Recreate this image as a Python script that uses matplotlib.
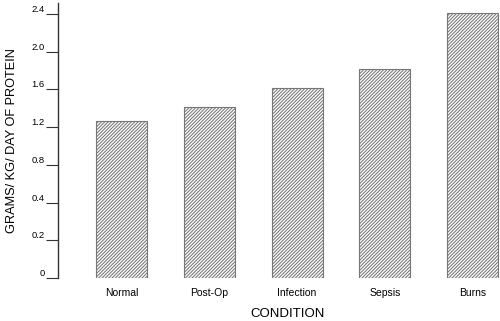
import numpy as np
import matplotlib
matplotlib.use("Agg")
import matplotlib.pyplot as plt

categories = ["Normal", "Post-Op", "Infection", "Sepsis", "Burns"]
values = [1.27, 1.41, 1.61, 1.82, 2.41]
tick_values = [0, 0.2, 0.4, 0.8, 1.2, 1.6, 2.0, 2.4]
tick_labels = ["0", "0.2", "0.4", "0.8", "1.2", "1.6", "2.0", "2.4"]

plt.rcParams["font.family"] = ["Liberation Sans", "DejaVu Sans"]
plt.rcParams["hatch.linewidth"] = 0.75
plt.rcParams["hatch.color"] = "#3a3a3a"

# piecewise axis: the printed ticks are equally spaced
knots_v = np.array(tick_values + [2.8])
knots_i = np.arange(len(knots_v), dtype=float)

def fwd(y):
    return np.interp(y, knots_v, knots_i)

def inv(i):
    return np.interp(i, knots_i, knots_v)

fig = plt.figure(figsize=(5.0, 3.21), dpi=100)
ax = fig.add_axes([58/500, 43/321, 441/500, 275/321])
ax.set_yscale("function", functions=(fwd, inv))

x = np.arange(len(categories))
ax.bar(x, values, width=0.58, color="white", edgecolor="#777777",
       linewidth=0.8, hatch="//////////", zorder=2)

ax.set_xlim(-0.724, 4.3)
ax.set_ylim(0, inv(7.29))
ax.set_yticks(tick_values)
ax.set_yticklabels(tick_labels)
ax.set_xticks(x)
ax.set_xticklabels(categories, fontsize=7.5)

for s in ["top", "right", "bottom"]:
    ax.spines[s].set_visible(False)
ax.spines["left"].set_linewidth(1.0)
ax.spines["left"].set_color("#333333")
ax.tick_params(axis="y", length=8.6, width=0.8, pad=1, labelsize=6.8, color="#333333")
ax.tick_params(axis="x", length=0, pad=7)
for lbl in ax.get_yticklabels():
    lbl.set_verticalalignment("bottom")

ax.set_xlabel("CONDITION", fontsize=9.5)
ax.xaxis.set_label_coords(0.52, -0.108)
ax.xaxis.label.set_verticalalignment("top")
ax.set_ylabel("GRAMS/ KG/ DAY OF PROTEIN", fontsize=9.2)
ax.yaxis.set_label_coords(-0.091, 0.5)

fig.savefig("out.png", dpi=100)
